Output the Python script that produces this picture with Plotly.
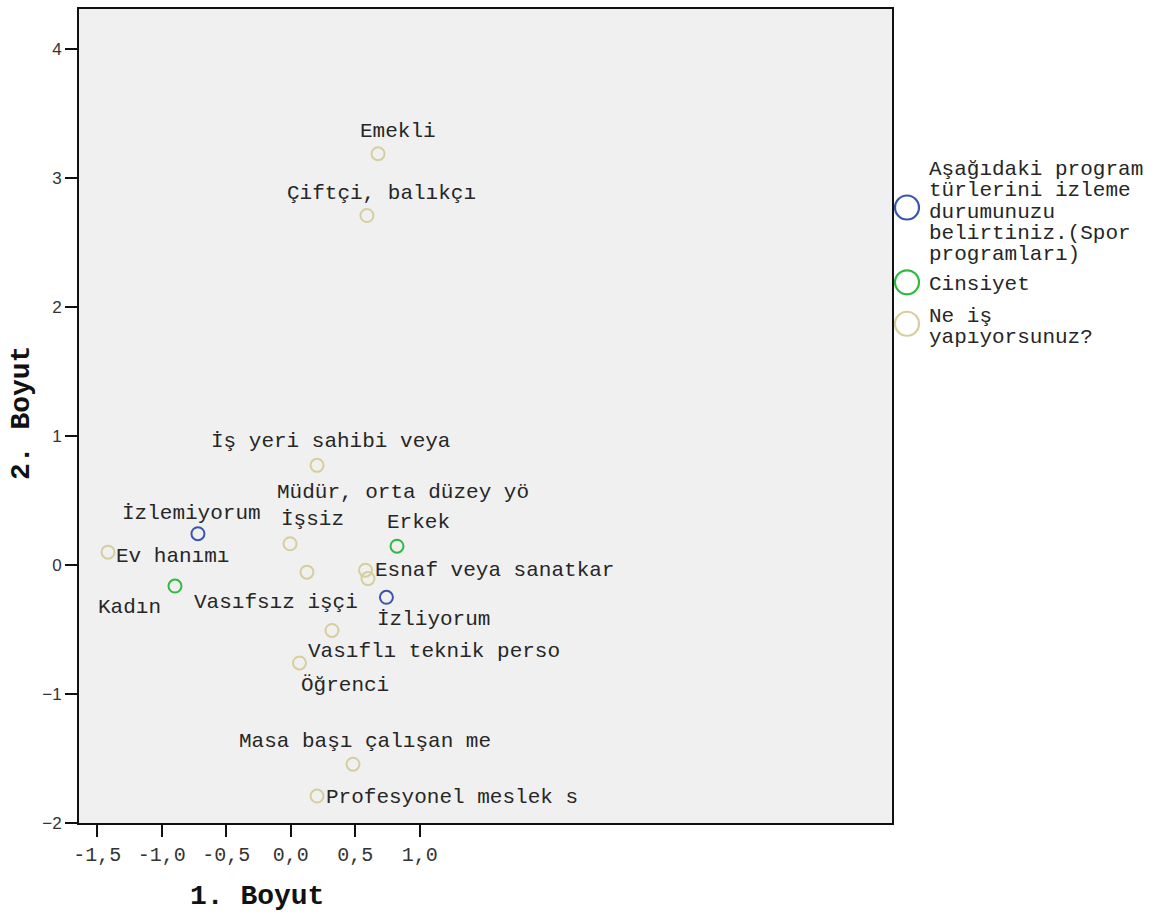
import plotly.graph_objects as go

# ---------------- data ----------------
spor_labels = ["İzlemiyorum", "İzliyorum"]
spor_x = [-0.719, 0.742]
spor_y = [0.240, -0.253]

cins_labels = ["Kadın", "Erkek"]
cins_x = [-0.897, 0.824]
cins_y = [-0.166, 0.143]

is_labels = ["Emekli", "Çiftçi, balıkçı", "İş yeri sahibi veya", "İşsiz",
             "Müdür, orta düzey yö", "Vasıfsız işçi", "Esnaf veya sanatkar",
             "Öğrenci", "Vasıflı teknik perso", "Masa başı çalışan me",
             "Profesyonel meslek s", "Ev hanımı"]
is_x = [0.677, 0.591, 0.204, -0.005, 0.580, 0.126, 0.599, 0.320, 0.068, 0.483, 0.204, -1.416]
is_y = [3.186, 2.707, 0.770, 0.162, -0.043, -0.058, -0.108, -0.510, -0.762, -1.547, -1.794, 0.097]

x_tickvals = [-1.5, -1.0, -0.5, 0.0, 0.5, 1.0]
x_ticktext = ["-1,5", "-1,0", "-0,5", "0,0", "0,5", "1,0"]
y_tickvals = [-2, -1, 0, 1, 2, 3, 4]
y_ticktext = ["−2", "−1", "0", "1", "2", "3", "4"]

legend_names = [
    ["Aşağıdaki program", "türlerini izleme", "durumunuzu", "belirtiniz.(Spor", "programları)"],
    ["Cinsiyet"],
    ["Ne iş", "yapıyorsunuz?"],
]

# ---------------- styles / positions ----------------
BLUE = "#3B55AD"
GREEN = "#2DBA3E"
TAN = "#D6CE9C"
MONO = "Courier New, Nimbus Mono PS, FreeMono, Liberation Mono, monospace"
TXT = "#262626"

# label offsets in pixels (dx right, dy up)
spor_off = [(-6, 20), (47, -22)]
cins_off = [(-45, -21), (21, 24)]
is_off = [(20, 22.5), (15, 22), (13.5, 24), (22, 24), (37, 78), (-30.5, -30),
          (127, 8), (13.5, -55), (135, 11), (12, 22.5), (134.5, -1), (64, -4)]

W, H = 1158, 915
PL, PR, PT, PB = 79, 892, 7, 823  # plot area pixel box

fig = go.Figure()
annotations = []
for xs, ys, labels, offs, col in [(spor_x, spor_y, spor_labels, spor_off, BLUE),
                                   (cins_x, cins_y, cins_labels, cins_off, GREEN),
                                   (is_x, is_y, is_labels, is_off, TAN)]:
    fig.add_trace(go.Scatter(
        x=xs, y=ys, mode="markers", hoverinfo="skip", showlegend=False,
        marker=dict(symbol="circle-open", size=13, color=col, line=dict(width=2, color=col)),
    ))
    for x, y, t, (dx, dy) in zip(xs, ys, labels, offs):
        annotations.append(dict(x=x, y=y, xref="x", yref="y", text=t, showarrow=False,
                                xanchor="center", yanchor="middle", xshift=dx, yshift=dy,
                                font=dict(family=MONO, size=21, color=TXT)))


def px2x(px):
    return (px - PL) / (PR - PL)


def py2y(py):
    return (PB - py) / (PB - PT)


# manual legend
shapes = []
leg_circles = [(907, 206, BLUE), (907, 281, GREEN), (907, 322.5, TAN)]
leg_baselines = [[174, 195.5, 217, 238.5, 260], [290], [321.7, 343.3]]
for (cx, cy, col), lines, bases in zip(leg_circles, legend_names, leg_baselines):
    shapes.append(dict(type="circle", xref="paper", yref="paper",
                       xsizemode="pixel", ysizemode="pixel",
                       xanchor=px2x(cx), yanchor=py2y(cy),
                       x0=-12, x1=12, y0=-12, y1=12,
                       line=dict(color=col, width=2.2), fillcolor="rgba(0,0,0,0)"))
    for line, b in zip(lines, bases):
        annotations.append(dict(x=px2x(927), y=py2y(b - 6.5), xref="paper", yref="paper",
                                text=line, showarrow=False, xanchor="left", yanchor="middle",
                                font=dict(family=MONO, size=21, color=TXT)))

# axis titles
annotations.append(dict(x=px2x(257), y=py2y(897), xref="paper", yref="paper",
                        text="<b>1. Boyut</b>", showarrow=False, xanchor="center", yanchor="middle",
                        font=dict(family=MONO, size=28, color="#111")))
annotations.append(dict(x=px2x(21), y=py2y(412), xref="paper", yref="paper",
                        text="<b>2. Boyut</b>", showarrow=False, xanchor="center", yanchor="middle",
                        textangle=-90, font=dict(family=MONO, size=28, color="#111")))

x0 = -1.641
x1 = 4.661
y0 = -2.003
y1 = 4.308

fig.update_layout(
    width=W, height=H,
    margin=dict(l=PL, r=W - PR, t=PT, b=H - PB, pad=0),
    paper_bgcolor="white", plot_bgcolor="#F0F0F0",
    showlegend=False,
    annotations=annotations, shapes=shapes,
    xaxis=dict(range=[x0, x1], tickvals=x_tickvals, ticktext=x_ticktext,
               showgrid=False, zeroline=False, showline=True, mirror=True,
               linecolor="#111", linewidth=2, ticks="outside", ticklen=12, tickwidth=2,
               tickcolor="#111", tickfont=dict(family=MONO, size=20, color="#333")),
    yaxis=dict(range=[y0, y1], tickvals=y_tickvals, ticktext=y_ticktext,
               showgrid=False, zeroline=False, showline=True, mirror=True,
               linecolor="#111", linewidth=2, ticks="outside", ticklen=12, tickwidth=2,
               tickcolor="#111", tickfont=dict(family="Liberation Sans", size=17, color="#333")),
)

fig.write_html("out.html", config={"displayModeBar": False},
               post_script="document.body.style.margin='0';")
